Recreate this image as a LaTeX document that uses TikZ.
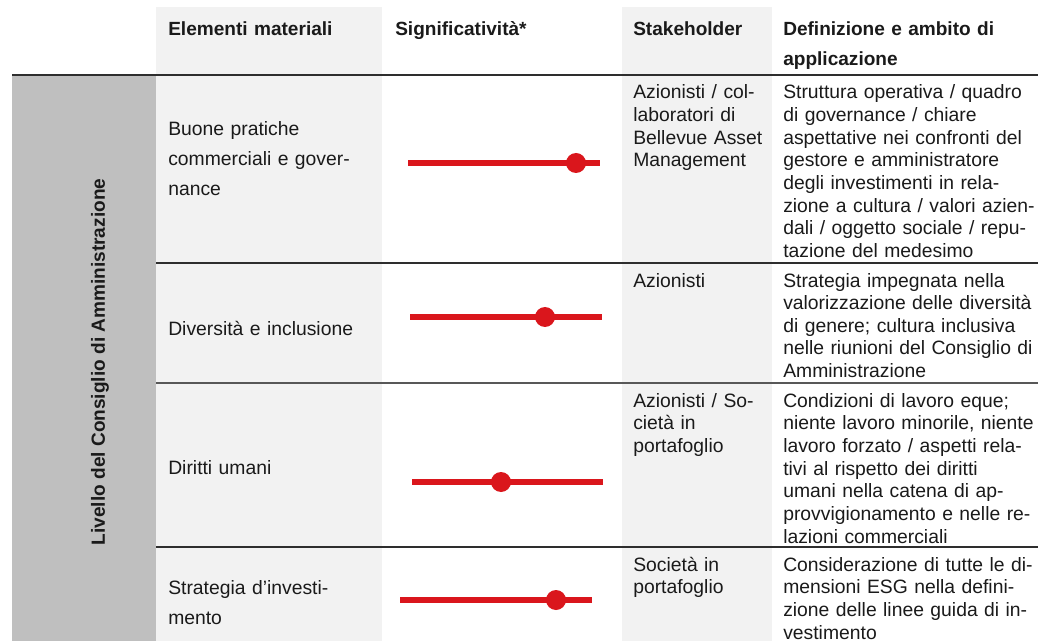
\documentclass[tikz,border=0pt]{standalone}
\usepackage{fontspec}
\setmainfont{Liberation Sans}
\definecolor{txt}{HTML}{1A1A1A}
\definecolor{lightbg}{HTML}{F2F2F2}
\definecolor{darkbg}{HTML}{BFBFBF}
\definecolor{barred}{RGB}{218,22,28}
\definecolor{rulecol}{HTML}{2E2E2E}
\begin{document}
\begin{tikzpicture}[x=0.75pt,y=-0.75pt,
  hdr/.style={anchor=base west, inner sep=0pt, text width=220pt, align=left,
    font=\fontsize{14.3}{22.5}\selectfont\bfseries, text=txt},
  elem/.style={anchor=base west, inner sep=0pt, text width=220pt, align=left,
    font=\fontsize{14.5}{22.5}\selectfont, text=txt},
  body/.style={anchor=base west, inner sep=0pt, text width=220pt, align=left,
    font=\fontsize{14.5}{17}\selectfont, text=txt},
  rowrule/.style={draw=rulecol, line width=1.4pt},
  bar/.style={draw=barred, line width=3.8pt},
  dot/.style={circle, fill=barred, inner sep=0pt, minimum size=15pt}]
\useasboundingbox (0,0) rectangle (1041,641);
% backgrounds
\fill[lightbg] (156,7) rectangle (382,641);
\fill[lightbg] (622,7) rectangle (772,641);
\fill[darkbg] (12,76) rectangle (156,641);
% rules
\coordinate (h0) at (12,75);  \coordinate (h1) at (1038,75);
\coordinate (r1a) at (156,263); \coordinate (r1b) at (1038,263);
\coordinate (r2a) at (156,383); \coordinate (r2b) at (1038,383);
\coordinate (r3a) at (156,547); \coordinate (r3b) at (1038,547);
\draw[rowrule] (h0) -- (h1);
\draw[rowrule] (r1a) -- (r1b);
\draw[rowrule, draw=rulecol!80] (r2a) -- (r2b);
\draw[rowrule] (r3a) -- (r3b);
% side label
\node[rotate=90, inner sep=0pt, font=\fontsize{14.3}{17}\selectfont\bfseries, text=txt] (side) at (100,362) {Livello del Consiglio di Amministrazione};
% header
\node[hdr] (hA) at (168,36) {Elementi materiali};
\node[hdr] (hB) at (395,36) {Significatività*};
\node[hdr] (hC) at (633,36) {Stakeholder};
\node[hdr] (hD) at (783,36) {Definizione e ambito di\\applicazione};
% column 1
\node[elem] (e1) at (168,136) {Buone pratiche\\commerciali e gover-\\nance};
\node[elem] (e2) at (168,335) {Diversità e inclusione};
\node[elem] (e3) at (168,474) {Diritti umani};
\node[elem] (e4) at (168,594) {Strategia d’investi-\\mento};
% stakeholder
\node[body] (s1) at (633,99) {Azionisti / col-\\laboratori di\\Bellevue Asset\\Management};
\node[body] (s2) at (633,287) {Azionisti};
\node[body] (s3) at (633,407) {Azionisti / So-\\cietà in\\portafoglio};
\node[body] (s4) at (633,571) {Società in\\portafoglio};
% definitions
\node[body] (d1) at (783,99) {Struttura operativa / quadro\\di governance / chiare\\aspettative nei confronti del\\gestore e amministratore\\degli investimenti in rela-\\zione a cultura / valori azien-\\dali / oggetto sociale / repu-\\tazione del medesimo};
\node[body] (d2) at (783,287) {Strategia impegnata nella\\valorizzazione delle diversità\\di genere; cultura inclusiva\\nelle riunioni del Consiglio di\\Amministrazione};
\node[body] (d3) at (783,407) {Condizioni di lavoro eque;\\niente lavoro minorile, niente\\lavoro forzato / aspetti rela-\\tivi al rispetto dei diritti\\umani nella catena di ap-\\provvigionamento e nelle re-\\lazioni commerciali};
\node[body] (d4) at (783,571) {Considerazione di tutte le di-\\mensioni ESG nella defini-\\zione delle linee guida di in-\\vestimento};
% significance bars
\coordinate (b1l) at (408,163); \coordinate (b1r) at (600,163);
\coordinate (b2l) at (410,317); \coordinate (b2r) at (602,317);
\coordinate (b3l) at (412,482); \coordinate (b3r) at (603,482);
\coordinate (b4l) at (400,600); \coordinate (b4r) at (592,600);
\draw[bar] (b1l) -- (b1r);
\draw[bar] (b2l) -- (b2r);
\draw[bar] (b3l) -- (b3r);
\draw[bar] (b4l) -- (b4r);
\node[dot] (p1) at (576,163) {};
\node[dot] (p2) at (545,317) {};
\node[dot] (p3) at (501,482) {};
\node[dot] (p4) at (556,600) {};
\end{tikzpicture}
\end{document}
